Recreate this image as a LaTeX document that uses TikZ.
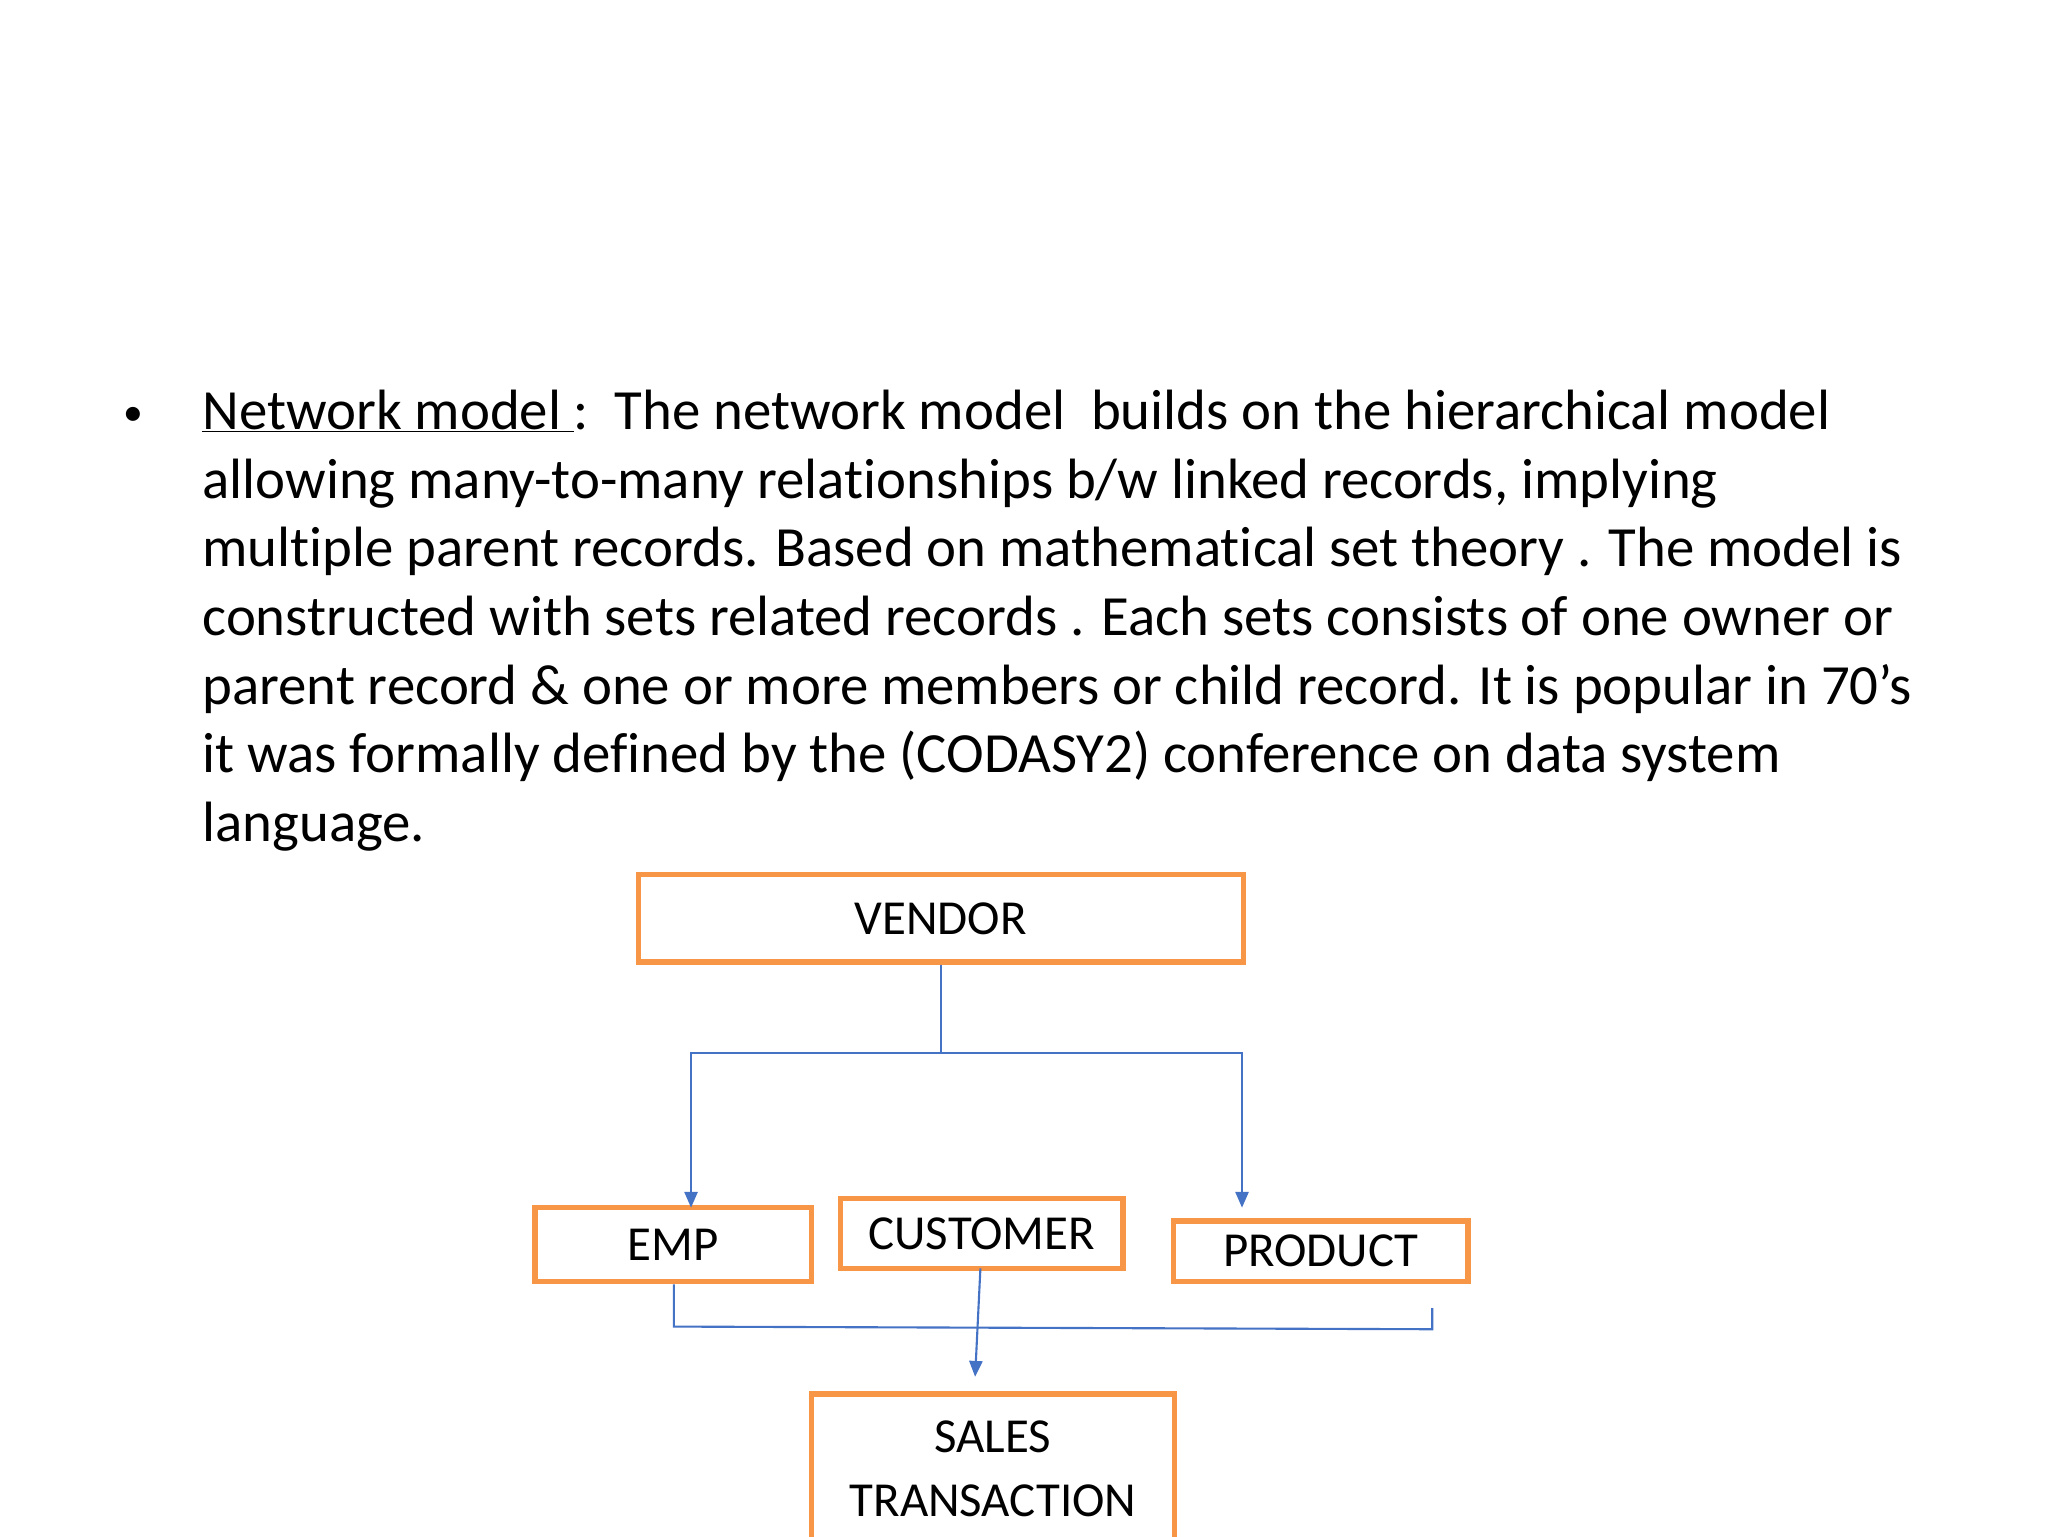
\documentclass[tikz,border=0pt]{standalone}
\usepackage{fontspec}
\setmainfont[Ligatures=NoCommon]{Carlito}
\usetikzlibrary{arrows.meta}
\definecolor{boxor}{RGB}{247,150,70}
\definecolor{lnblue}{RGB}{68,114,196}
\begin{document}
\begin{tikzpicture}[x=1pt,y=-1pt,
  box/.style={draw=boxor, line width=4pt, font=\fontsize{37}{46}\selectfont, align=center, inner sep=0pt},
  conn/.style={draw=lnblue, line width=1.6pt},
  arr/.style={conn,-{Triangle[length=12pt,width=10pt]}},
  txt/.style={anchor=base west, inner sep=0pt, font=\fontsize{43}{52}\selectfont}]
\useasboundingbox (0,0) rectangle (1550,1162.5);
\node[anchor=base, inner sep=0pt, font=\fontsize{30}{52}\selectfont] (bul) at (101,322) {•};
\node[txt] (l1) at (153,325) {\underline{Network model }:\ \ The network model\ \ builds on the hierarchical model};
\node[txt] (l2) at (153,377) {allowing many-to-many relationships b/w linked records, implying};
\node[txt] (l3) at (153,429) {multiple parent records. Based on mathematical set theory . The model is};
\node[txt] (l4) at (153,481) {constructed with sets related records . Each sets consists of one owner or};
\node[txt] (l5) at (153,533) {parent record \& one or more members or child record. It is popular in 70’s};
\node[txt] (l6) at (153,585) {it was formally defined by the (CODASY2) conference on data system};
\node[txt] (l7) at (153,637) {language.};
\node[box, minimum width=458pt, minimum height=66pt] (vendor) at (712,695) {VENDOR};
\node[box, minimum width=209pt, minimum height=56pt] (emp) at (509.5,942) {EMP};
\node[box, minimum width=214pt, minimum height=53pt] (cust) at (743,933.5) {CUSTOMER};
\node[box, minimum width=223pt, minimum height=46pt] (prod) at (999.5,947) {PRODUCT};
\node[box, minimum width=275pt, minimum height=113pt] (sales) at (751.5,1111.5) {SALES\\[2pt]TRANSACTION};
\coordinate (j1) at (712,797);
\coordinate (pe) at (1084,990);
\draw[conn] (vendor.south) -- (j1);
\draw[arr] (j1) -| (523,914);
\draw[arr] (j1) -| (940,914);
\draw[conn] (emp.south -| 510,0) -- (510,1004) -- (1084,1006) -- (pe);
\draw[arr] (742,960) -- (738,1042);
\end{tikzpicture}
\end{document}
